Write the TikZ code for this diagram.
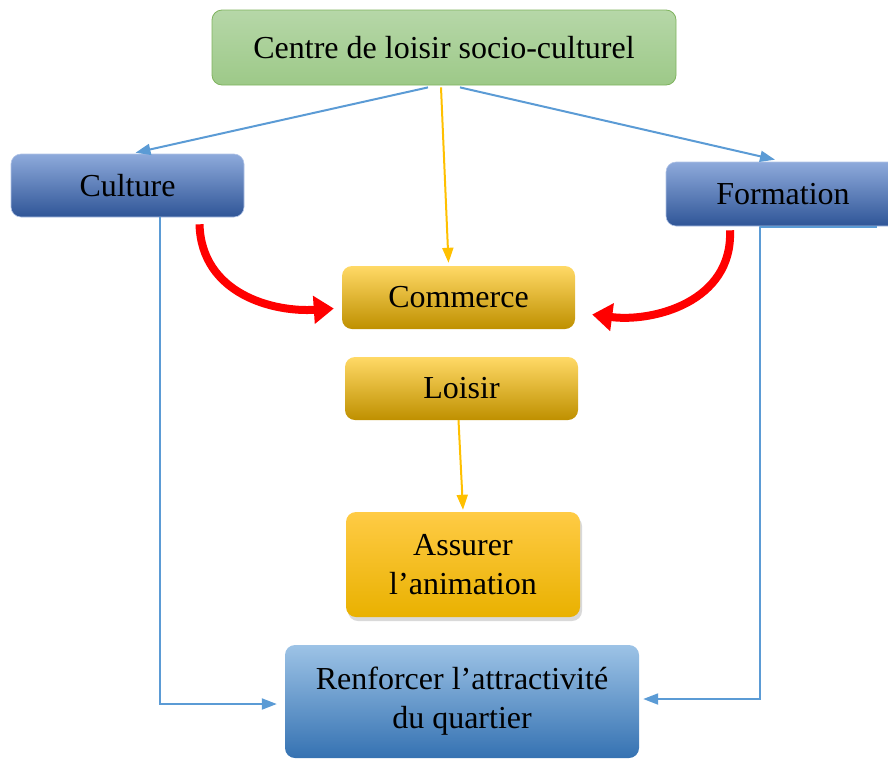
\documentclass[tikz,border=0pt]{standalone}
\usepackage{fontspec}
\setmainfont{Liberation Serif}
\usetikzlibrary{arrows.meta,shadows}

\definecolor{greentop}{HTML}{B6D7A8}
\definecolor{greenbot}{HTML}{9DC988}
\definecolor{greenline}{HTML}{7FB35E}
\definecolor{bluetop}{HTML}{8EAADB}
\definecolor{bluemid}{HTML}{4472C4}
\definecolor{bluebot}{HTML}{2F5597}
\definecolor{yellowtop}{HTML}{FFD966}
\definecolor{yellowmid}{HTML}{FFC000}
\definecolor{yellowbot}{HTML}{BF9000}
\definecolor{orangetop}{HTML}{FFCB45}
\definecolor{orangebot}{HTML}{E9B100}
\definecolor{skytop}{HTML}{9DC3E6}
\definecolor{skybot}{HTML}{3572B2}
\definecolor{linkblue}{HTML}{5B9BD5}
\definecolor{linkyellow}{HTML}{FFC000}

\begin{document}
\begin{tikzpicture}[x=1pt,y=-1pt,
  box/.style={rounded corners=10pt, minimum width=\BOXW pt, minimum height=\BOXH pt, inner sep=0pt, align=center, font=\fontsize{32}{39}\selectfont},
  greenbox/.style={top color=greentop, bottom color=greenbot, draw=greenline, line width=0.8pt},
  bluebox/.style={top color=bluetop, middle color=bluemid, bottom color=bluebot, draw=bluetop!70, line width=0.6pt},
  yellowbox/.style={top color=yellowtop, middle color=yellowmid, bottom color=yellowbot},
  orangebox/.style={top color=orangetop, middle color=yellowmid, bottom color=orangebot, drop shadow={opacity=0.3, shadow xshift=2pt, shadow yshift=-4pt}},
  skybox/.style={top color=skytop, bottom color=skybot},
  bluelink/.style={draw=linkblue, line width=2pt, -{Triangle[length=15pt,width=11pt]}},
  yellowlink/.style={draw=linkyellow, line width=2pt, -{Triangle[length=15pt,width=11pt]}},
  redlink/.style={draw=red, line width=8pt, -{Triangle[length=20pt,width=27pt]}}]

\def\BOXW{233}
\def\BOXH{63}

\useasboundingbox (0,0) rectangle (888,758);

% boxes
\node (centre) at (444,47.5) [box, greenbox, minimum width=464pt, minimum height=75pt] {Centre de loisir socio-culturel};
\node (culture) at (127.5,185.5) [box, bluebox] {Culture};
\node (formation) at (783,194) [box, bluebox, minimum width=234pt, minimum height=64pt] {Formation};
\node (commerce) at (458.5,297.5) [box, yellowbox] {Commerce};
\node (loisir) at (461.5,388.5) [box, yellowbox] {Loisir};
\node (animation) at (463,564.5) [box, orangebox, minimum width=234pt, minimum height=105pt] {Assurer\\l’animation};
\node (quartier) at (462,701.5) [box, skybox, minimum width=354pt, minimum height=113pt] {Renforcer l’attractivité\\du quartier};

% links
\draw[bluelink] ([xshift=-16,yshift=-2]centre.south) -- ([xshift=8,yshift=1]culture.north);
\draw[bluelink] ([xshift=16,yshift=-2]centre.south) -- ([xshift=-8,yshift=2]formation.north);
\draw[yellowlink] ([xshift=-3,yshift=-2]centre.south) -- ([xshift=-10,yshift=3]commerce.north);
\draw[yellowlink] ([xshift=-3]loisir.south) -- ([yshift=2]animation.north);
\draw[bluelink] ([xshift=32.5]culture.south) |- ([xshift=-8,yshift=-2.5]quartier.west);
\draw[bluelink] ([xshift=94,yshift=-1]formation.south) -| ([xshift=-23]formation.south) |- ([xshift=4,yshift=2.5]quartier.east);

% curved arrows
\draw[redlink] ([xshift=72,yshift=-7]culture.south) .. controls +(2,70) and +(-60,4) .. ([xshift=-8,yshift=-11]commerce.west);
\draw[redlink] ([xshift=-53,yshift=-4]formation.south) .. controls +(3,72) and +(60,8) .. ([xshift=17,yshift=-17]commerce.east);

\end{tikzpicture}
\end{document}
